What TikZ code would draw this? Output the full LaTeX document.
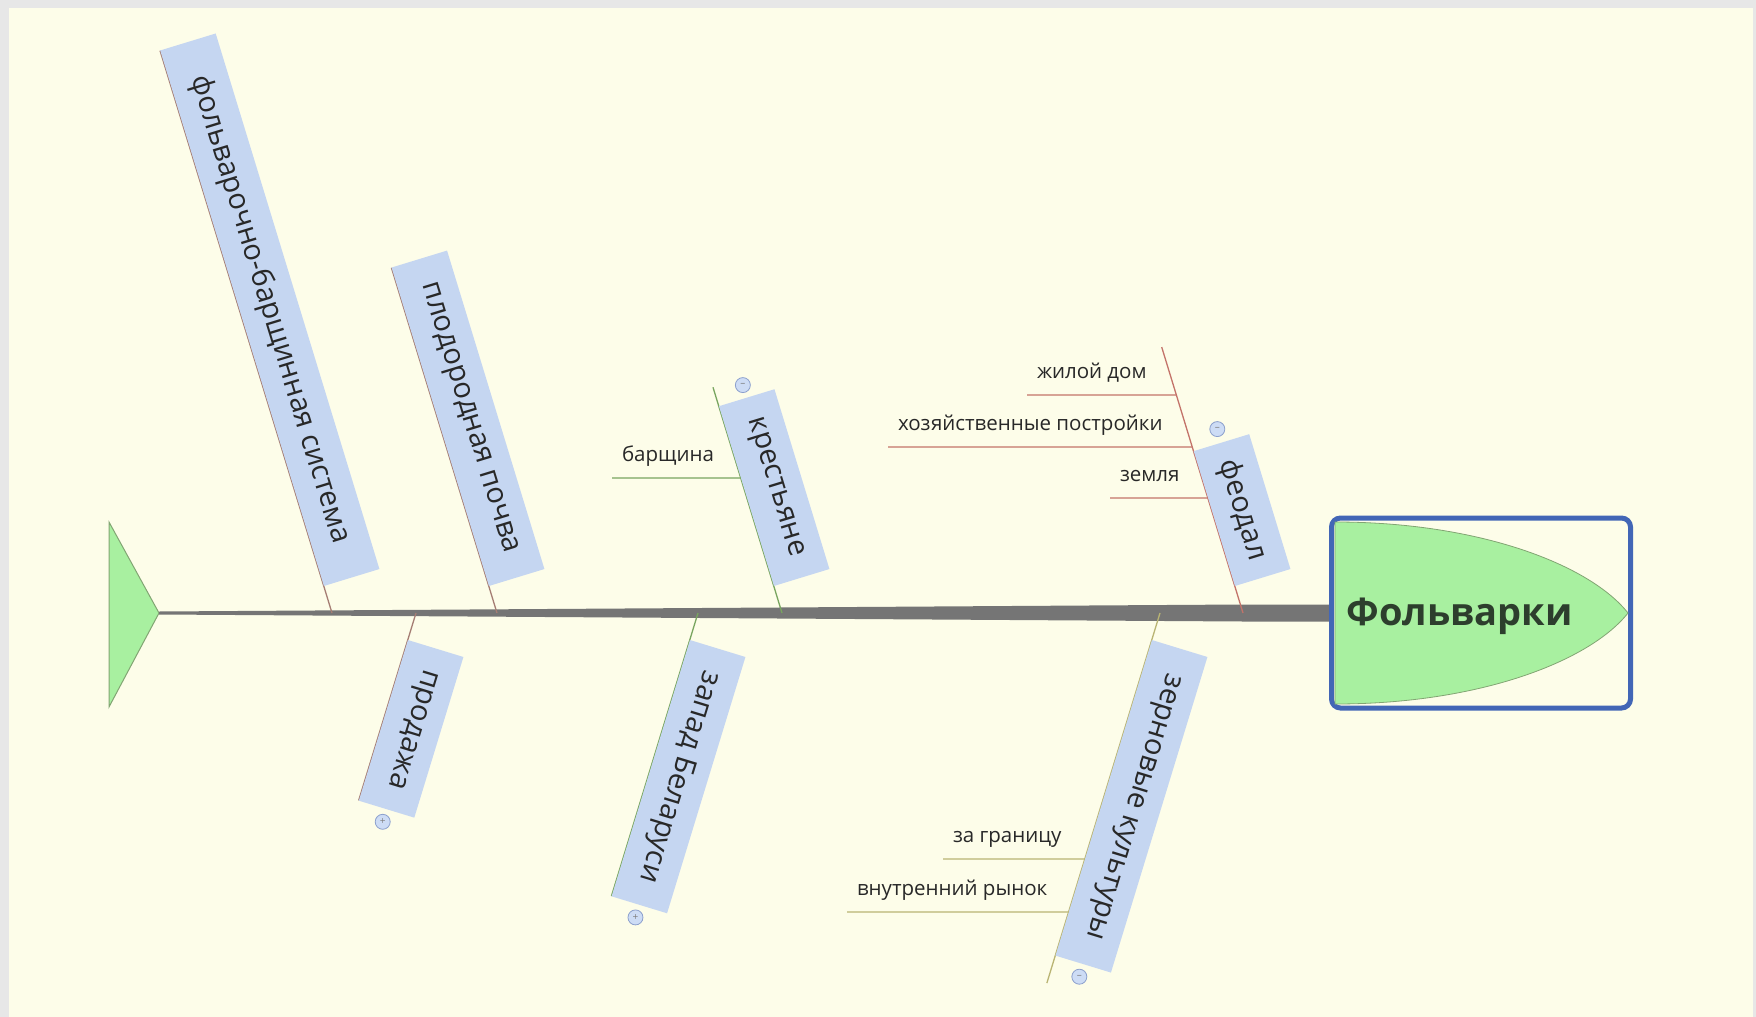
\documentclass[tikz,border=0pt]{standalone}
\usepackage{fontspec}
\setmainfont{Open Sans}
\usepackage{tikz}
\usetikzlibrary{calc, positioning}

\definecolor{paper}{RGB}{253,253,233}
\definecolor{frame}{RGB}{231,231,231}
\definecolor{bonebox}{RGB}{197,214,241}
\definecolor{spinegray}{RGB}{117,117,117}
\definecolor{headblue}{RGB}{66,102,182}
\definecolor{headgreen}{RGB}{168,240,160}
\definecolor{edgegreen}{RGB}{130,165,115}
\definecolor{linebrown}{RGB}{165,125,115}
\definecolor{linegreen}{RGB}{120,165,95}
\definecolor{linered}{RGB}{195,115,105}
\definecolor{lineolive}{RGB}{185,180,115}
\definecolor{inkgray}{RGB}{40,40,40}
\definecolor{titleink}{RGB}{45,62,45}
\definecolor{togglefill}{RGB}{205,220,245}
\definecolor{toggleedge}{RGB}{140,160,205}

\begin{document}
\begin{tikzpicture}[
    x=1pt, y=-1pt,
    bone/.style={fill=bonebox, minimum height=58pt, inner sep=0pt, text=inkgray, font=\fontsize{29}{29}\selectfont},
    upbone/.style={bone, rotate=-73, anchor=south east},
    downbone/.style={bone, rotate=-107, anchor=south west},
    boneline/.style={line width=1.3pt},
    cause/.style={font=\fontsize{20.5}{20.5}\selectfont, text=inkgray, inner xsep=10pt, inner ysep=0pt, text depth=17pt, outer sep=0pt, anchor=south west},
    toggle/.style={circle, fill=togglefill, draw=toggleedge, line width=0.8pt, minimum size=15pt, inner sep=0pt, text=gray, font=\fontsize{10}{10}\selectfont},
    headframe/.style={draw=headblue, line width=5pt, rounded corners=9pt, minimum width=299pt, minimum height=190pt, anchor=west},
    headlabel/.style={font=\fontsize{38}{38}\selectfont\bfseries, text=titleink, anchor=base west}
]
\def\gap{28pt}

% Background
\useasboundingbox (0,0) rectangle (1756,1017);
\fill[frame] (0,0) rectangle (1756,1017);
\fill[paper] (9,8) rectangle (1753,1017);

% Tail
\coordinate (tail) at (159,613);
\filldraw[fill=headgreen, draw=edgegreen, line width=1pt] (109,522) -- (tail) -- (109,707) -- cycle;

% Spine
\coordinate (neck) at (1329,613);
\coordinate (s4) at (1243,613);
\fill[spinegray] ($(tail)+(0,-1.5)$) -- ($(s4)+(0,-8.5)$) -- ($(neck)+(2,-8.5)$)
    -- ($(neck)+(2,8.5)$) -- ($(s4)+(0,8.5)$) -- ($(tail)+(0,1.5)$) -- cycle;

% Head
\node[headframe] (head) at (neck) {};
\filldraw[fill=headgreen, draw=edgegreen, line width=0.8pt] (1335,522)
    .. controls (1480,522) and (1590,565) .. (1628,613)
    .. controls (1590,661) and (1480,704) .. (1335,704) -- cycle;
\node[headlabel] (title) at (1343,625) {Фольварки};

% фольварочно-барщинная система
\coordinate (s1) at (332,613);
\coordinate (e1) at ($(s1)+(253:588)$);
\draw[boneline, draw=linebrown] (s1) -- (e1);
\node[upbone, minimum width=560pt] (b1) at ($(s1)!\gap!(e1)$) {фольварочно-барщинная система};

% плодородная почва
\coordinate (s2) at (497,613);
\coordinate (e2) at ($(s2)+(253:361)$);
\draw[boneline, draw=linebrown] (s2) -- (e2);
\node[upbone, minimum width=333pt] (b2) at ($(s2)!\gap!(e2)$) {плодородная почва};

% крестьяне
\coordinate (s3) at (782,613);
\coordinate (e3) at ($(s3)+(253:236)$);
\draw[boneline, draw=linegreen] (s3) -- (e3);
\node[upbone, minimum width=188pt] (b3) at ($(s3)!\gap!(e3)$) {крестьяне};
\node[toggle] (t3) at ($(b3.west)+(253:13)$) {–};
\node[cause] (c31) at (612,478) {барщина};
\draw[boneline, draw=linegreen] (c31.south west) -- (intersection cs: first line={(s3)--(e3)}, second line={(c31.south west)--(c31.south east)});

% феодал
\coordinate (e4) at ($(s4)+(253:278)$);
\draw[boneline, draw=linered] (s4) -- (e4);
\node[upbone, minimum width=141pt] (b4) at ($(s4)!\gap!(e4)$) {феодал};
\node[toggle] (t4) at ($(b4.west)+(253:14)$) {–};
\node[cause] (c41) at (1027,395) {жилой дом};
\node[cause] (c42) at (888,447) {хозяйственные постройки};
\node[cause] (c43) at (1110,498) {земля};
\draw[boneline, draw=linered] (c41.south west) -- (intersection cs: first line={(s4)--(e4)}, second line={(c41.south west)--(c41.south east)});
\draw[boneline, draw=linered] (c42.south west) -- (intersection cs: first line={(s4)--(e4)}, second line={(c42.south west)--(c42.south east)});
\draw[boneline, draw=linered] (c43.south west) -- (intersection cs: first line={(s4)--(e4)}, second line={(c43.south west)--(c43.south east)});

% продажа
\coordinate (s5) at (416,613);
\coordinate (e5) at ($(s5)+(107:196)$);
\draw[boneline, draw=linebrown] (s5) -- (e5);
\node[downbone, minimum width=168pt] (b5) at ($(s5)!\gap!(e5)$) {продажа};
\node[toggle] (t5) at ($(b5.east)+(107:13)$) {+};

% запад Беларуси
\coordinate (s6) at (698,613);
\coordinate (e6) at ($(s6)+(107:296)$);
\draw[boneline, draw=linegreen] (s6) -- (e6);
\node[downbone, minimum width=268pt] (b6) at ($(s6)!\gap!(e6)$) {запад Беларуси};
\node[toggle] (t6) at ($(b6.east)+(107:13)$) {+};

% зерновые культуры
\coordinate (s7) at (1160,613);
\coordinate (e7) at ($(s7)+(107:387)$);
\draw[boneline, draw=lineolive] (s7) -- (e7);
\node[downbone, minimum width=330pt] (b7) at ($(s7)!\gap!(e7)$) {зерновые культуры};
\node[toggle] (t7) at ($(b7.east)+(107:13)$) {–};
\node[cause] (c71) at (943,859) {за границу};
\node[cause] (c72) at (847,912) {внутренний рынок};
\draw[boneline, draw=lineolive] (c71.south west) -- (intersection cs: first line={(s7)--(e7)}, second line={(c71.south west)--(c71.south east)});
\draw[boneline, draw=lineolive] (c72.south west) -- (intersection cs: first line={(s7)--(e7)}, second line={(c72.south west)--(c72.south east)});
\end{tikzpicture}
\end{document}
